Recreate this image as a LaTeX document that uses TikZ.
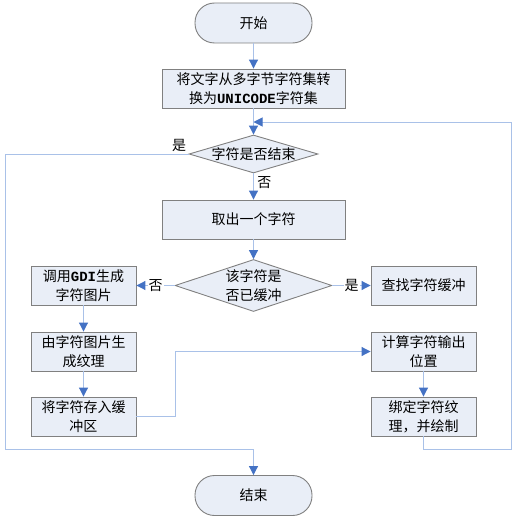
\documentclass[tikz,border=0pt]{standalone}
\usepackage{fontspec}
\setmainfont{Noto Sans CJK SC}
\newfontfamily\codefont{Liberation Mono}
\usetikzlibrary{arrows.meta, positioning, shapes.geometric}
\definecolor{boxfill}{HTML}{E9EEF7}
\definecolor{boxline}{HTML}{808080}
\definecolor{flowline}{HTML}{A9C1E8}
\definecolor{tipblue}{HTML}{4472C4}

\begin{document}
\begin{tikzpicture}[
    x=1pt, y=-1pt,
    every node/.style={font=\fontsize{14}{19}\selectfont},
    term/.style={draw=boxline, fill=boxfill, line width=0.9pt, rounded corners=19.5pt,
                 minimum width=117pt, minimum height=40pt},
    proc/.style={draw=boxline, fill=boxfill, line width=0.9pt, align=center,
                 minimum width=183pt, minimum height=39pt, inner sep=1pt},
    side/.style={proc, minimum width=105pt},
    test/.style={diamond, draw=boxline, fill=boxfill, line width=0.9pt, align=center, inner sep=0pt},
    flow/.style={draw=flowline, line width=1pt, -{Triangle[length=9pt, width=9pt, color=tipblue]}},
    tag/.style={fill=white, inner sep=1pt},
]
\useasboundingbox (0,0) rectangle (519,519);
% main column
\node[term] (start) at (253.5,23) {开始};
\node[proc] (conv) at (253.5,88.5) {将文字从多字节字符集转\\换为{\codefont\bfseries UNICODE}字符集};
\node[test, minimum width=129pt, minimum height=38pt, aspect=3.4] (isend) at (253.5,154) {字符是否结束};
\node[proc] (fetch) at (253.5,219.5) {取出一个字符};
\node[test, minimum width=157pt, minimum height=52pt, aspect=3] (cached) at (253.5,285.5) {该字符是\\否已缓冲};
\node[term] (stop) at (253.5,495.5) {结束};
% left branch: not cached yet
\node[side] (gdi) at (83.5,285.5) {调用{\codefont\bfseries GDI}生成\\字符图片};
\node[side] (tex) at (83.5,351.5) {由字符图片生\\成纹理};
\node[side] (store) at (83.5,416.5) {将字符存入缓\\冲区};
% right branch: draw it
\node[side] (lookup) at (423.5,285.5) {查找字符缓冲};
\node[side] (pos) at (423.5,351.5) {计算字符输出\\位置};
\node[side] (bind) at (423.5,416.5) {绑定字符纹\\理，并绘制};
% bends of the long lines
\coordinate (lft) at (5,449);
\coordinate (rgt) at (511,449);
\coordinate (join) at (253.5,122);
\coordinate (bend) at (175,416.5);

\draw[flow] (start) -- (conv);
\draw[flow] (conv) -- (isend);
\draw[flow] (isend) -- node[pos=0.35, right]{否} (fetch);
\draw[flow] (fetch) -- (cached);
\draw[flow] (cached) -- node[tag]{否} (gdi);
\draw[flow] (cached) -- node[tag]{是} (lookup);
\draw[flow] (gdi) -- (tex);
\draw[flow] (tex) -- (store);
\draw[flow] (store) -- (bend) |- (pos);
\draw[flow] (pos) -- (bind);
% loop back and exit
\draw[flow] (bind) |- (rgt) |- (join);
\draw[flow] (isend.west) node[above left, inner sep=2pt]{是} -| (lft) -| (stop);
\end{tikzpicture}
\end{document}
